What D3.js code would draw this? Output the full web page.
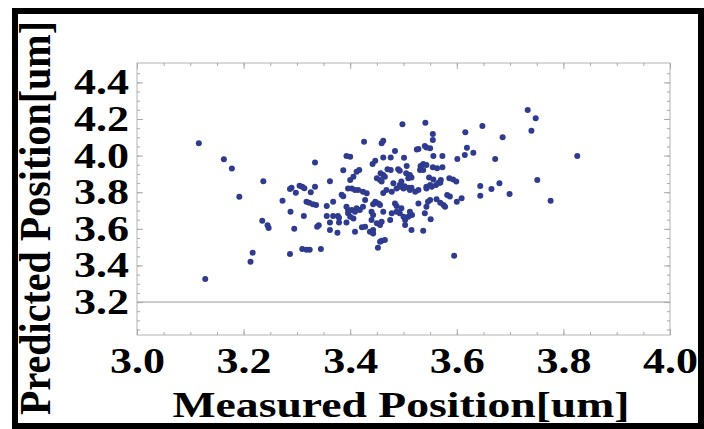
<!DOCTYPE html>
<html>
<head>
<meta charset="utf-8">
<script src="https://cdn.jsdelivr.net/npm/d3@7"></script>
<style>
  body { margin: 0; background: #fff; }
  svg { display: block; }
  .tick line { stroke: #aaa; }
</style>
</head>
<body>
<svg id="chart" width="704" height="429"></svg>
<script>
// measured vs predicted position
var measured = [3.116,3.163,3.178,3.237,3.334,3.362,3.387,3.393,3.29,3.31,3.334,3.192,3.128,3.213,3.217,3.235,3.245,3.247,3.273,3.287,
  3.298,3.305,3.314,3.288,3.295,3.313,3.287,3.31,3.318,3.324,3.326,3.318,3.323,3.33,3.336,3.338,3.341,3.345,3.356,3.362,
  3.376,3.368,3.356,3.368,3.377,3.379,3.362,3.379,3.393,3.384,3.387,3.393,3.396,3.396,3.396,3.733,3.748,3.74,3.648,3.686,
  3.616,3.619,3.615,3.631,3.601,3.672,3.826,3.498,3.541,3.555,3.555,3.426,3.459,3.462,3.484,3.525,3.528,3.54,3.543,3.55,
  3.556,3.573,3.462,3.476,3.501,3.447,3.442,3.417,3.412,3.4,3.457,3.462,3.465,3.47,3.476,3.49,3.493,3.506,3.532,3.537,
  3.543,3.531,3.537,3.555,3.563,3.573,3.505,3.512,3.515,3.509,3.406,3.4,3.45,3.456,3.459,3.481,3.493,3.5,3.548,3.556,
  3.57,3.569,3.586,3.593,3.599,3.644,3.665,3.68,3.751,3.509,3.515,3.543,3.403,3.644,3.699,3.776,3.595,3.6,3.609,3.587,
  3.582,3.575,3.578,3.569,3.562,3.55,3.546,3.543,3.54,3.551,3.537,3.515,3.528,3.516,3.512,3.509,3.503,3.503,3.493,3.487,
  3.478,3.475,3.462,3.456,3.453,3.447,3.443,3.44,3.443,3.44,3.45,3.456,3.459,3.443,3.443,3.437,3.459,3.465,3.456,3.452,
  3.428,3.422,3.409,3.406,3.4,3.412,3.409,3.403,3.418,3.424,3.428,3.431,3.424,3.415,3.409,3.462,3.468,3.478,3.487,3.502,
  3.512,3.522,3.528,3.493,3.496,3.55,3.566,3.561,3.543,3.553,3.484,3.487,3.496,3.5];
var predicted = [4.067,3.98,3.93,3.86,3.963,3.86,3.92,3.998,3.825,3.83,3.83,3.775,3.326,3.42,3.47,3.644,3.62,3.605,3.754,3.817,
  3.797,3.835,3.822,3.693,3.6,3.67,3.462,3.49,3.486,3.486,3.8,3.748,3.743,3.735,3.73,3.611,3.62,3.49,3.725,3.593,
  3.579,3.748,3.67,3.67,3.67,3.66,3.635,3.635,3.635,3.786,3.778,3.72,3.703,3.685,3.821,4.249,4.204,4.136,4.162,4.1,
  4.127,4.043,4.003,4.016,3.981,3.981,3.998,4.171,4.18,4.118,4.085,4.076,4.067,4.081,4.025,4.034,4.036,4.052,4.045,4.04,
  3.998,3.998,3.99,3.99,3.988,3.972,3.954,3.921,3.912,3.994,3.903,3.894,3.885,3.925,3.921,3.925,3.917,3.943,3.943,3.954,
  3.949,3.921,3.921,3.936,3.931,3.936,3.903,3.894,3.881,3.876,3.885,3.867,3.876,3.867,3.858,3.849,3.83,3.821,3.881,3.87,
  3.867,3.852,3.876,3.87,3.858,3.834,3.817,3.849,3.867,3.825,3.825,3.83,3.821,3.781,3.79,3.754,3.453,3.748,3.767,3.776,
  3.785,3.73,3.72,3.743,3.761,3.757,3.748,3.72,3.685,3.652,3.59,3.593,3.739,3.675,3.693,3.666,3.648,3.621,3.685,3.693,
  3.685,3.648,3.693,3.73,3.739,3.748,3.735,3.693,3.675,3.648,3.63,3.621,3.639,3.593,3.575,3.584,3.535,3.539,3.53,3.497,
  3.611,3.608,3.584,3.657,3.666,3.712,3.693,3.703,3.703,3.72,3.757,3.794,3.803,3.812,3.812,3.796,3.812,3.803,3.821,3.832,
  3.812,3.803,3.812,3.839,3.858,3.839,3.852,3.84,3.821,3.83,3.739,3.725,3.712,3.666];

var xMajor = [3.0, 3.2, 3.4, 3.6, 3.8, 4.0];
var yMajor = [3.2, 3.4, 3.6, 3.8, 4.0, 4.2, 4.4];
var xMinor = d3.range(0, 21).map(function(i) { return 3 + i * 0.05; });
var yMinor = d3.range(1, 30).map(function(i) { return 3 + i * 0.05; });

var svg = d3.select("#chart");
var pLeft = 137, pRight = 670, pTop = 63, pBottom = 335;

var x = d3.scaleLinear().domain([3, 4]).range([pLeft, pRight]);
var y = d3.scaleLinear().domain([3.02, 4.506]).range([pBottom, pTop]);

var font = "'Liberation Serif', 'Times New Roman', serif";

// outer black frame
svg.append("rect")
    .attr("x", 15).attr("y", 11)
    .attr("width", 686).attr("height", 415)
    .attr("fill", "none")
    .attr("stroke", "#000")
    .attr("stroke-width", 6);

// plot frame
svg.append("rect")
    .attr("x", pLeft).attr("y", pTop)
    .attr("width", pRight - pLeft).attr("height", pBottom - pTop)
    .attr("fill", "none")
    .attr("stroke", "#b3b3b3")
    .attr("stroke-width", 1);

// axis line at y = 3.2
svg.append("line")
    .attr("x1", pLeft).attr("x2", pRight)
    .attr("y1", y(3.2)).attr("y2", y(3.2))
    .attr("stroke", "#999").attr("stroke-width", 1);

function frameAxis(axis, tr) {
  var g = svg.append("g").attr("transform", tr).call(axis);
  g.select(".domain").remove();
  return g;
}

// minor ticks, all sides
frameAxis(d3.axisBottom(x).tickValues(xMinor).tickSize(-3).tickFormat(""), "translate(0," + pBottom + ")");
frameAxis(d3.axisTop(x).tickValues(xMinor).tickSize(-3).tickFormat(""), "translate(0," + pTop + ")");
frameAxis(d3.axisLeft(y).tickValues(yMinor).tickSize(-3).tickFormat(""), "translate(" + pLeft + ",0)");
frameAxis(d3.axisRight(y).tickValues(yMinor).tickSize(-3).tickFormat(""), "translate(" + pRight + ",0)");

// major ticks
var xAx = frameAxis(d3.axisBottom(x).tickValues(xMajor).tickSize(-6).tickPadding(12).tickFormat(d3.format(".1f")),
    "translate(0," + pBottom + ")");
frameAxis(d3.axisTop(x).tickValues(xMajor).tickSize(-6).tickFormat(""), "translate(0," + pTop + ")");
var yAx = frameAxis(d3.axisLeft(y).tickValues(yMajor).tickSize(-6).tickPadding(8).tickFormat(d3.format(".1f")),
    "translate(" + pLeft + ",0)");
frameAxis(d3.axisRight(y).tickValues(yMajor).tickSize(-6).tickFormat(""), "translate(" + pRight + ",0)");

[xAx, yAx].forEach(function(g) {
  g.selectAll("text")
      .attr("fill", "#000")
      .style("font-family", font)
      .style("font-weight", "bold")
      .style("font-size", "36px")
      .attr("textLength", 55)
      .attr("lengthAdjust", "spacingAndGlyphs");
});

// points
svg.append("g")
  .selectAll("circle")
  .data(measured)
  .enter().append("circle")
    .attr("cx", function(d) { return x(d); })
    .attr("cy", function(d, i) { return y(predicted[i]); })
    .attr("r", 3)
    .attr("fill", "#2f3b8f");

// titles
svg.append("text")
    .attr("x", 401).attr("y", 417)
    .attr("text-anchor", "middle")
    .attr("textLength", 457)
    .attr("lengthAdjust", "spacingAndGlyphs")
    .style("font-family", font).style("font-weight", "bold").style("font-size", "35px")
    .text("Measured Position[um]");

svg.append("text")
    .attr("transform", "translate(50,218) scale(1.25,1) rotate(-90)")
    .attr("text-anchor", "middle")
    .attr("textLength", 394)
    .attr("lengthAdjust", "spacingAndGlyphs")
    .style("font-family", font).style("font-weight", "bold").style("font-size", "35px")
    .text("Predicted Position[um]");
</script>
</body>
</html>
